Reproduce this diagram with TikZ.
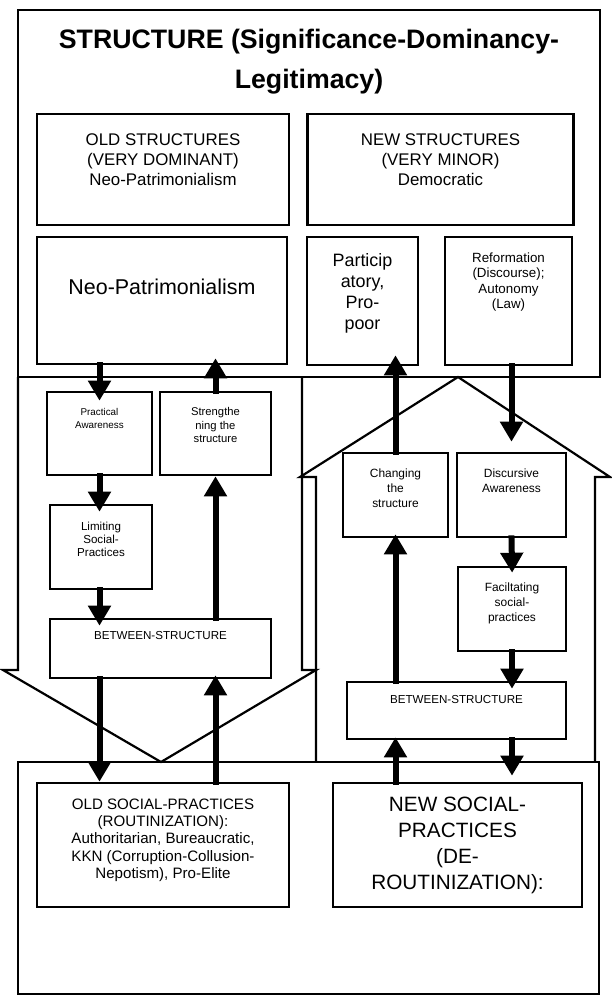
\documentclass[tikz,border=0pt]{standalone}
\usepackage{fontspec}
\setmainfont{Liberation Sans}
\usetikzlibrary{arrows.meta,positioning}

\begin{document}
\begin{tikzpicture}[
    x=0.5mm, y=-0.5mm,
    box/.style={rectangle, draw, line width=1.3mm, inner sep=0pt},
    txt/.style={inner sep=0pt, align=center},
    outline/.style={draw, line width=1.1mm},
    flow/.style={line width=3mm, -{Triangle[width=11mm,length=10mm]}, shorten >=-3.5mm, shorten <=-1.5mm}
]
    \fill[white] (0,0) rectangle (611,996);
    \useasboundingbox (0,0) rectangle (611,996);

    % Block arrows
    \draw[outline] (18,377) -- (18,670) -- (3,670) -- (161,762) -- (316,670) -- (302,670) -- (302,377);
    \draw[outline] (316,762) -- (316,477) -- (300,477) -- (458,377) -- (610,477) -- (595,477) -- (595,762);

    % Structure
    \node[box, minimum width=291mm, minimum height=183.5mm] (structure) at (309,193.5) {};
    \node[txt, font=\bfseries\fontsize{38}{58}\selectfont, below=10mm of structure.north] (title) {STRUCTURE (Significance-Dominancy-\\Legitimacy)};

    \node[box, minimum width=126mm, minimum height=55.5mm] (old) at (163,169.5) {};
    \node[txt, font=\fontsize{24}{28.5}\selectfont, below=10.5mm of old.north] (oldT) {OLD STRUCTURES\\(VERY DOMINANT)\\Neo-Patrimonialism};
    \node[box, minimum width=133mm, minimum height=55.5mm] (new) at (440.5,169.5) {};
    \node[txt, font=\fontsize{24}{28.5}\selectfont, below=10.5mm of new.north] (newT) {NEW STRUCTURES\\(VERY MINOR)\\Democratic};

    \node[box, minimum width=125mm, minimum height=63.5mm] (neo) at (162,300.5) {};
    \node[txt, font=\fontsize{30.5}{36}\selectfont, below=21.5mm of neo.north] (neoT) {Neo-Patrimonialism};
    \node[box, minimum width=55.5mm, minimum height=64mm] (partic) at (362.5,301) {};
    \node[txt, font=\fontsize{25.5}{29.5}\selectfont, below=9mm of partic.north] (particT) {Particip\\atory,\\Pro-\\poor};
    \node[box, minimum width=63.5mm, minimum height=64mm] (reform) at (508.5,301) {};
    \node[txt, font=\fontsize{19}{22}\selectfont, below=8.5mm of reform.north] (reformT) {Reformation\\(Discourse);\\Autonomy\\(Law)};

    % Between the structures
    \node[box, minimum width=52.5mm, minimum height=41.5mm] (prac) at (99.5,433.5) {};
    \node[txt, font=\fontsize{14}{18.5}\selectfont, below=9mm of prac.north] (pracT) {Practical\\Awareness};
    \node[box, minimum width=55.5mm, minimum height=41.5mm] (streng) at (215.5,433.5) {};
    \node[txt, font=\fontsize{16}{18.5}\selectfont, below=8.5mm of streng.north] (strengT) {Strengthe\\ning the\\structure};
    \node[box, minimum width=51mm, minimum height=42mm] (limit) at (101,547) {};
    \node[txt, font=\fontsize{16.5}{18.5}\selectfont, below=9mm of limit.north] (limitT) {Limiting\\Social-\\Practices};
    \node[box, minimum width=110.5mm, minimum height=29.5mm] (betwL) at (160.5,648.5) {};
    \node[txt, font=\fontsize{16.5}{20}\selectfont, below=7mm of betwL.north] (betwLT) {BETWEEN-STRUCTURE};

    \node[box, minimum width=52.5mm, minimum height=42mm] (chang) at (395.5,495) {};
    \node[txt, font=\fontsize{17}{21.5}\selectfont, below=8.5mm of chang.north] (changT) {Changing\\the\\structure};
    \node[box, minimum width=54.5mm, minimum height=42mm] (disc) at (511.5,495) {};
    \node[txt, font=\fontsize{17}{21.5}\selectfont, below=8.5mm of disc.north] (discT) {Discursive\\Awareness};
    \node[box, minimum width=54mm, minimum height=42mm] (facil) at (512,609) {};
    \node[txt, font=\fontsize{17}{21.5}\selectfont, below=8.5mm of facil.north] (facilT) {Faciltating\\social-\\practices};
    \node[box, minimum width=109.5mm, minimum height=28.5mm] (betwR) at (456.5,710.5) {};
    \node[txt, font=\fontsize{16.5}{20}\selectfont, below=7.5mm of betwR.north] (betwRT) {BETWEEN-STRUCTURE};

    % Social practices
    \node[box, minimum width=290.5mm, minimum height=116mm] (practices) at (308.5,878) {};
    \node[box, minimum width=126mm, minimum height=62mm] (oldsoc) at (163,845) {};
    \node[txt, font=\fontsize{21.5}{24.6}\selectfont, below=8.5mm of oldsoc.north] (oldsocT) {OLD SOCIAL-PRACTICES\\(ROUTINIZATION):\\Authoritarian, Bureaucratic,\\KKN (Corruption-Collusion-\\Nepotism), Pro-Elite};
    \node[box, minimum width=124.5mm, minimum height=62mm] (newsoc) at (457.5,845) {};
    \node[txt, font=\fontsize{29.5}{37}\selectfont, below=7.5mm of newsoc.north] (newsocT) {NEW SOCIAL-\\PRACTICES\\(DE-\\ROUTINIZATION):};

    % Flows, old side
    \draw[flow, shorten >=-5mm] (prac.north |- neo.south) -- (prac.north);
    \draw[flow] (streng.north) -- (streng.north |- neo.south);
    \draw[flow, shorten >=-4mm] (prac.south) -- (prac.south |- limit.north);
    \draw[flow, shorten >=0mm] (streng.south |- betwL.north) -- (streng.south);
    \draw[flow, shorten >=-4mm] (limit.south -| prac.south) -- (prac.south |- betwL.north);
    \draw[flow, shorten >=0mm] (prac.south |- betwL.south) -- (prac.south |- oldsoc.north);
    \draw[flow, shorten >=-2mm] (streng.south |- oldsoc.north) -- (streng.south |- betwL.south);

    % Flows, new side
    \draw[flow, shorten >=-5.5mm] (chang.north) -- (chang.north |- partic.south);
    \draw[flow, shorten >=5mm] (disc.north |- reform.south) -- (disc.north);
    \draw[flow, shorten >=-2mm] (chang.south |- betwR.north) -- (chang.south);
    \draw[flow] (disc.south) -- (facil.north);
    \draw[flow, shorten >=-4mm] (facil.south) -- (facil.south |- betwR.north);
    \draw[flow, shorten >=-1.5mm] (chang.south |- newsoc.north) -- (chang.south |- betwR.south);
    \draw[flow, shorten >=3mm] (facil.south |- betwR.south) -- (facil.south |- newsoc.north);
\end{tikzpicture}
\end{document}
